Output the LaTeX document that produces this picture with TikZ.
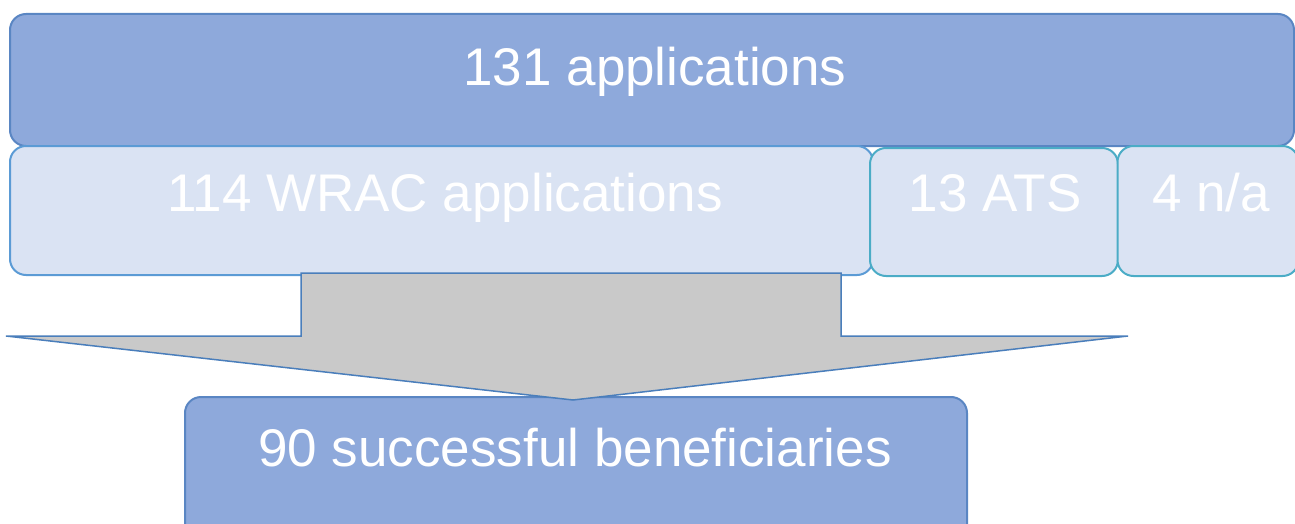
\documentclass[tikz,border=0pt]{standalone}
\usepackage{fontspec}
\setmainfont{Liberation Sans}
\definecolor{darkfill}{HTML}{8EA9DB}
\definecolor{darkline}{HTML}{5A86C3}
\definecolor{lightfill}{HTML}{DAE3F3}
\definecolor{lightline}{HTML}{5B9BD5}
\definecolor{tealline}{HTML}{4BACC6}
\definecolor{arrowfill}{HTML}{C9C9C9}
\definecolor{arrowline}{HTML}{4A7EBB}
\begin{document}
\begin{tikzpicture}[x=1pt,y=-1pt,
  box/.style={draw, line width=2pt, rounded corners=16pt, inner sep=0pt},
  bigbox/.style={box, fill=darkfill, draw=darkline},
  smallbox/.style={box, fill=lightfill, draw=lightline},
  tealbox/.style={box, fill=lightfill, draw=tealline},
  lbl/.style={text=white, inner sep=0pt, font=\fontsize{53}{60}\selectfont}]
\useasboundingbox (0,0) rectangle (1295,524);
\clip (0,0) rectangle (1295,524);
% top box
\node[bigbox, minimum width=1284pt, minimum height=132pt] (top) at (652,80) {};
\node[lbl] (toplbl) at (655,72) {131 applications};
% bottom box (drawn before arrow)
\node[bigbox, minimum width=782pt, minimum height=150pt] (bot) at (576,472) {};
\node[lbl] (botlbl) at (575,448) {90 successful beneficiaries};
% middle row
\node[smallbox, minimum width=863pt, minimum height=129pt] (wrac) at (441.5,210.5) {};
\node[lbl] (wraclbl) at (445,198) {114 WRAC applications};
\node[tealbox, minimum width=248pt, minimum height=128pt] (ats) at (994,212) {};
\node[lbl] (atslbl) at (995,193) {13 ATS};
\node[tealbox, minimum width=181pt, minimum height=130pt] (na) at (1208,211) {};
\node[lbl] (nalbl) at (1211,193) {4 n/a};
% arrow
\coordinate (s1) at (301,273);
\coordinate (s2) at (841,273);
\coordinate (s3) at (841,336);
\coordinate (w2) at (1128,336);
\coordinate (tip) at (573,400);
\coordinate (w1) at (6,336);
\coordinate (s4) at (301,336);
\draw[fill=arrowfill, draw=arrowline, line width=1.5pt, line join=miter]
  (s1) -- (s2) -- (s3) -- (w2) -- (tip) -- (w1) -- (s4) -- cycle;
\end{tikzpicture}
\end{document}
